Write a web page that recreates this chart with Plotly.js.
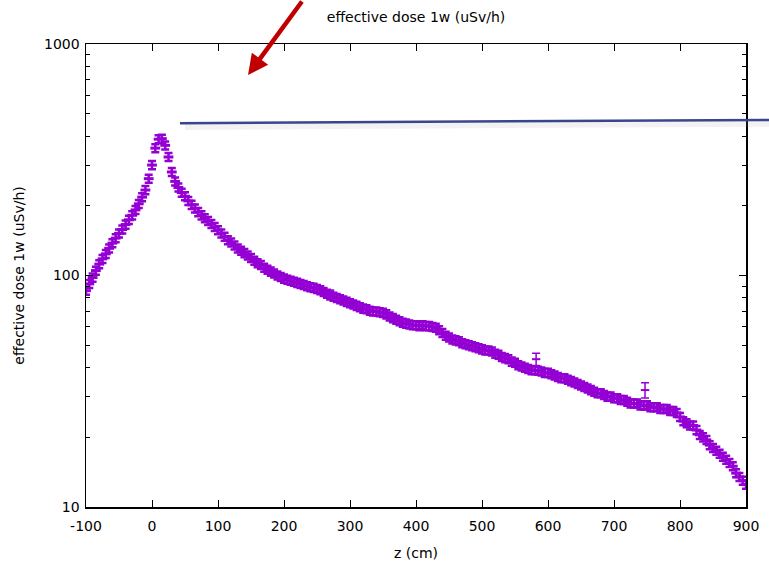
<!DOCTYPE html>
<html>
<head>
<meta charset="utf-8">
<script src="https://cdn.plot.ly/plotly-3.0.1.min.js"></script>
<style>html,body{margin:0;padding:0;background:#fff;}#chart{width:769px;height:563px;}</style>
</head>
<body>
<div id="chart"></div>
<script>
const zPos = [-100,-95,-90,-85,-80,-75,-70,-65,-60,-55,-50,-45,-40,-35,-30,-25,-20,-15,-10,-5,
  0,5,10,15,20,25,30,35,40,45,50,55,60,65,70,75,80,85,90,95,
  100,105,110,115,120,125,130,135,140,145,150,155,160,165,170,175,180,185,190,195,
  200,205,210,215,220,225,230,235,240,245,250,255,260,265,270,275,280,285,290,295,
  300,305,310,315,320,325,330,335,340,345,350,355,360,365,370,375,380,385,390,395,
  400,405,410,415,420,425,430,435,440,445,450,455,460,465,470,475,480,485,490,495,
  500,505,510,515,520,525,530,535,540,545,550,555,560,565,570,575,580,585,590,595,
  600,605,610,615,620,625,630,635,640,645,650,655,660,665,670,675,680,685,690,695,
  700,705,710,715,720,725,730,735,740,745,750,755,760,765,770,775,780,785,790,795,
  800,805,810,815,820,825,830,835,840,845,850,855,860,865,870,875,880,885,890,895,900];
const dose = [86,92,98,105,112,118,124,131,138,145,152,158,166,174,182,192,204,218,234,262,
  300,355,388,390,365,325,280,255,240,228,220,210,202,195,188,182,177,172,167,162,
  157,152,147,142,139,135,131,128,125,122,119,116,113,111,108,106,104,102,100,98.5,
  97,96,95,94,93,92,91,90,89,88.5,87.5,86.5,85,83.5,82,81,80,79,78,77,
  76,75,74,73,72,71.5,70.5,70,70,69.5,69,68,66.5,65.5,64.5,63.5,62.5,62,61.5,61,
  61,60.5,61,60.5,60.5,60,59.5,58,56.5,55,54,53,52.5,52,51,50.5,50,49.5,49,48.5,
  48,47.5,47.5,47,46,45.5,44.5,44,43.5,42.5,42,41,40.5,40,39.5,39,39,38.8,38.5,38,
  38,37.5,37,36.5,36,36,35.5,35,34.5,34,33.5,33,32.5,32,31.5,31,31,30.5,30,30,
  29.5,29.5,29,29,28.5,28,28,28,27.5,27.5,27.5,27,27,27,26.5,26.5,26.5,26,26,25.5,
  24.5,23.5,23,22.5,22.5,21.5,20.5,20,19.5,18.5,18,17.5,17,16.5,16,15.5,15,14,13.5,13,12.5];
const outlierZ = [270, 582, 747];
const outlierDose = [84, 43.5, 32];
const outlierErr = [2.5, 2.6, 2.4];
const xTicks = [-100,0,100,200,300,400,500,600,700,800,900];
const yTicks = [10,100,1000];

const purple = '#9400d3';
const traces = [
  {
    x: zPos, y: dose, type: 'scatter', mode: 'markers',
    marker: {symbol: 'line-ew', size: 7, color: purple, line: {width: 3, color: purple}},
    error_y: {type: 'percent', value: 4, color: purple, thickness: 2.5, width: 4},
    hoverinfo: 'x+y', showlegend: false
  },
  {
    x: outlierZ, y: outlierDose, type: 'scatter', mode: 'markers',
    marker: {symbol: 'line-ew', size: 6, color: purple, line: {width: 2, color: purple}},
    error_y: {type: 'data', array: outlierErr, color: purple, thickness: 1.5, width: 4},
    showlegend: false
  }
];

const font = {family: 'DejaVu Sans, sans-serif', size: 14, color: '#000'};
const layout = {
  width: 769, height: 563,
  margin: {l: 86, r: 23, t: 44, b: 56, pad: 0},
  paper_bgcolor: '#fff', plot_bgcolor: '#fff',
  font: font,
  showlegend: false,
  title: {text: 'effective dose 1w (uSv/h)', font: font, x: 0.541, xanchor: 'center', y: 0.97, yanchor: 'middle'},
  xaxis: {
    range: [-100, 900], tickvals: xTicks, ticktext: xTicks.map(String),
    ticks: 'inside', ticklen: 7, tickwidth: 1, tickcolor: '#000',
    showline: true, linecolor: '#000', linewidth: 1.5, mirror: 'allticks',
    showgrid: false, zeroline: false, ticklabelstandoff: 6,
    title: {text: 'z (cm)', font: font, standoff: 15},
    tickfont: font
  },
  yaxis: {
    type: 'log', range: [1, 3], tickvals: yTicks, ticktext: yTicks.map(String),
    ticks: 'inside', ticklen: 7, tickwidth: 1, tickcolor: '#000',
    minor: {dtick: 'D1', ticks: 'inside', ticklen: 4, tickcolor: '#000', tickwidth: 1, showgrid: false},
    showline: true, linecolor: '#000', linewidth: 1.5, mirror: 'allticks',
    showgrid: false, zeroline: false, ticklabelstandoff: 2,
    title: {text: 'effective dose 1w (uSv/h)', font: font, standoff: 16},
    tickfont: font
  },
  shapes: [
    {type: 'line', xref: 'paper', yref: 'paper', x0: 0.15, x1: 1.04, y0: 0.821, y1: 0.828,
     line: {color: 'rgba(150,150,150,0.12)', width: 6}},
    {type: 'line', xref: 'paper', yref: 'paper', x0: 0.1424, x1: 1.036, y0: 0.829, y1: 0.836,
     line: {color: '#3a468c', width: 2.5}}
  ],
  annotations: [
    {xref: 'paper', yref: 'paper', x: 0.2455, y: 0.933, text: '', showarrow: true,
     ax: 55, ay: -85, arrowcolor: '#c00000', arrowwidth: 4.5, arrowhead: 2, arrowsize: 0.9, standoff: 0}
  ]
};

Plotly.newPlot('chart', traces, layout, {staticPlot: true});
</script>
</body>
</html>
